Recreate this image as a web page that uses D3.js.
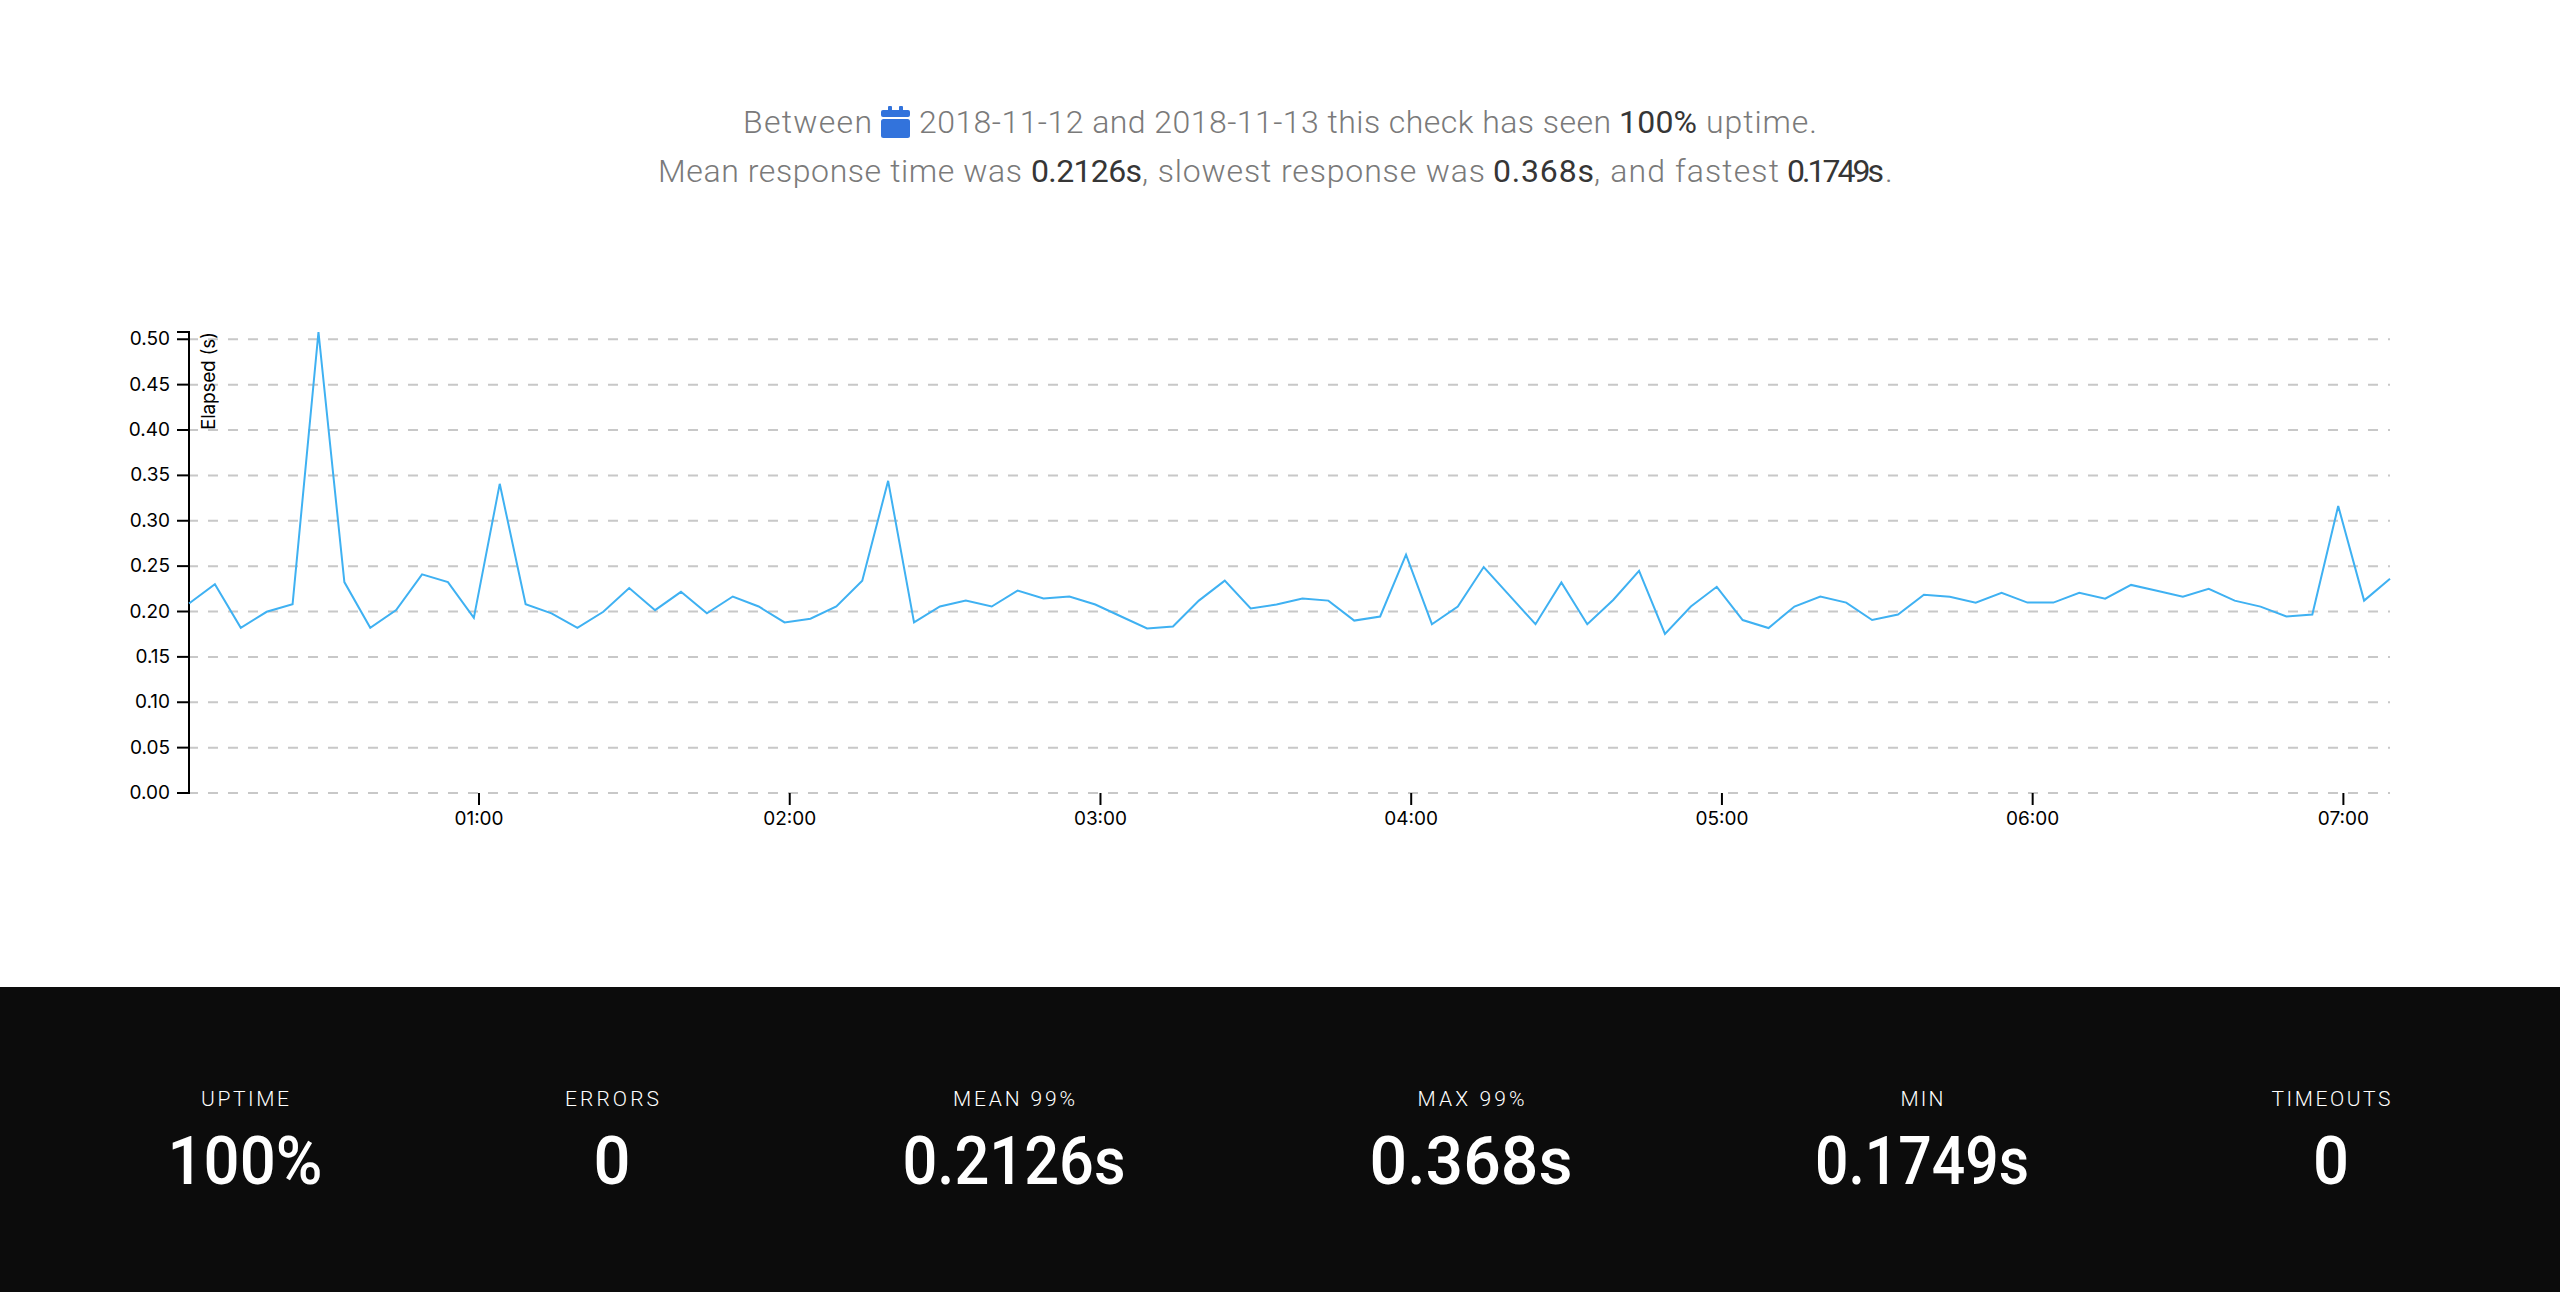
<!DOCTYPE html>
<html>
<head>
<meta charset="utf-8">
<title>Uptime report</title>
<script src="https://cdn.jsdelivr.net/npm/d3@7"></script>
<style>
  html, body { margin: 0; background: #fff; }
  svg { display: block; }
  .axis text { font-family: Inter, sans-serif; font-size: 19px; fill: #000; }
  .axis line, .axis path { stroke: #000; stroke-width: 2px; }
  .summary text { font-family: Roboto, sans-serif; font-size: 32px; font-weight: 300; fill: #7a7a7a; }
  .summary text.em { fill: #363636; font-weight: 400; }
  .stat-label { font-family: Roboto, sans-serif; font-size: 21px; font-weight: 300; fill: #fff; text-anchor: middle; }
  .stat-value { font-family: Roboto, sans-serif; font-size: 67px; font-weight: 500; fill: #fff; text-anchor: middle; }
</style>
</head>
<body>
<svg id="chart" width="2560" height="1292"></svg>
<script>
// Minutes after midnight of each five-minute check
const checkMinutes = [
  4, 9, 14, 19, 24, 29, 34, 39, 44, 49, 54, 59, 64, 69, 74, 79, 84, 89, 94, 99, 104, 109,
  114, 119, 124, 129, 134, 139, 144, 149, 154, 159, 164, 169, 174, 179, 184, 189, 194, 199, 204, 209,
  214, 219, 224, 229, 234, 239, 244, 249, 254, 259, 264, 269, 274, 279, 284, 289, 294, 299, 304, 309,
  314, 319, 324, 329, 334, 339, 344, 349, 354, 359, 364, 369, 374, 379, 384, 389, 394, 399, 404, 409,
  414, 419, 424, 429
];

// Elapsed seconds for each check
const elapsed = [
  .2088, .230, .182, .1997, .208, .508, .2324, .182, .2015, .241, .2324, .193, .3407, .208, .198, .182,
  .1997, .2258, .2015, .2217, .198, .2165, .2055, .188, .192, .2055, .234, .344, .188, .2055, .212, .2055,
  .223, .2143, .2165, .2077, .1945, .1813, .1835, .212, .234, .2033, .2077, .2143, .212, .190, .1945, .2627,
  .186, .2055, .249, .2175, .186, .232, .186, .2127, .2447, .1753, .2055, .2272, .1906, .1818, .2055, .2164,
  .2098, .1906, .1967, .2185, .2163, .2098, .2207, .2098, .2098, .2207, .2141, .2293, .2228, .2163, .225, .212,
  .2054, .1946, .1967, .3163, .212, .2362
];

const yTicks = [0, .05, .10, .15, .20, .25, .30, .35, .40, .45, .50];
const xTickHours = [1, 2, 3, 4, 5, 6, 7];

// Summary sentences as [text, emphasised, left edge, right edge]
const summaryLine1 = [
  ["Between", false, 743, 872],
  ["2018-11-12 and 2018-11-13 this check has seen", false, 919, 1611],
  ["100%", true, 1619, 1697],
  ["uptime.", false, 1706, 1817]
];
const summaryLine2 = [
  ["Mean response time was", false, 658, 1022],
  ["0.2126s", true, 1031, 1142],
  [", slowest response was", false, 1142, 1485],
  ["0.368s", true, 1493, 1594],
  [", and fastest", false, 1594, 1779],
  ["0.1749s", true, 1787, 1884],
  [".", false, 1885, 1893]
];

const statLabels = ["UPTIME", "ERRORS", "MEAN 99%", "MAX 99%", "MIN", "TIMEOUTS"];
const statValues = ["100%", "0", "0.2126s", "0.368s", "0.1749s", "0"];
const statCentres = [245, 612, 1014, 1471, 1922, 2331];
const statLabelWidths = [88, 94, 122, 107, 43, 119];
const statValueWidths = [155, 37, 223, 203, 214, 36];

const svg = d3.select("#chart");
const toDate = m => new Date(Date.UTC(2018, 10, 12, 0, m));

const x = d3.scaleUtc()
  .domain(d3.extent(checkMinutes, toDate))
  .range([189, 2390]);
const y = d3.scaleLinear()
  .domain([0, d3.max(elapsed)])
  .range([793, 332]);

// Dashed horizontal guides behind the series
svg.append("g").selectAll("line").data(yTicks).join("line")
  .attr("x1", 188).attr("x2", x.range()[1])
  .attr("y1", d => y(d)).attr("y2", d => y(d))
  .attr("stroke", "#c8c8c8").attr("stroke-width", 2)
  .attr("stroke-dasharray", "10 10");

const xAxis = d3.axisBottom(x)
  .tickValues(xTickHours.map(h => toDate(h * 60)))
  .tickFormat(d3.utcFormat("%H:%M"))
  .tickSize(12).tickPadding(7).offset(0);
svg.append("g").attr("class", "axis")
  .attr("transform", `translate(0,${y(0)})`)
  .call(xAxis)
  .call(g => g.select(".domain").remove());

const yAxis = d3.axisLeft(y)
  .tickValues(yTicks)
  .tickFormat(d3.format(".2f"))
  .tickSize(12).tickPadding(7).offset(0);
const yG = svg.append("g").attr("class", "axis")
  .attr("transform", `translate(${x.range()[0]},0)`)
  .call(yAxis);

yG.append("text")
  .attr("transform", "rotate(-90)")
  .attr("x", -y.range()[1]).attr("y", 26)
  .attr("text-anchor", "end")
  .attr("textLength", 98)
  .text("Elapsed (s)");

svg.append("path")
  .datum(elapsed)
  .attr("fill", "none").attr("stroke", "#3fb1f2").attr("stroke-width", 2)
  .attr("d", d3.line().x((d, i) => x(toDate(checkMinutes[i]))).y(d => y(d)));

// Summary sentences above the chart
const summary = svg.append("g").attr("class", "summary");
[[summaryLine1, 133], [summaryLine2, 182]].forEach(([segments, baseline]) => {
  summary.selectAll(null).data(segments).join("text")
    .attr("class", d => d[1] ? "em" : null)
    .attr("x", d => d[2]).attr("y", baseline)
    .attr("textLength", d => d[3] - d[2])
    .text(d => d[0]);
});

// Calendar icon
const icon = svg.append("g").attr("fill", "#3273dc");
icon.append("rect").attr("x", 881).attr("y", 110).attr("width", 29).attr("height", 7).attr("rx", 2);
icon.append("rect").attr("x", 881).attr("y", 119).attr("width", 29).attr("height", 19).attr("rx", 2.5);
icon.append("rect").attr("x", 888).attr("y", 106).attr("width", 4).attr("height", 5).attr("rx", 1);
icon.append("rect").attr("x", 899).attr("y", 106).attr("width", 4).attr("height", 5).attr("rx", 1);

// Dark statistics band
svg.append("rect")
  .attr("x", 0).attr("y", 987).attr("width", 2560).attr("height", 305)
  .attr("fill", "#0c0c0c");

svg.append("g").selectAll("text").data(statLabels).join("text")
  .attr("class", "stat-label")
  .attr("x", (d, i) => statCentres[i]).attr("y", 1105.5)
  .attr("textLength", (d, i) => statLabelWidths[i])
  .text(d => d);

svg.append("g").selectAll("text").data(statValues).join("text")
  .attr("class", "stat-value")
  .attr("x", (d, i) => statCentres[i]).attr("y", 1184)
  .attr("textLength", (d, i) => statValueWidths[i])
  .attr("lengthAdjust", "spacingAndGlyphs")
  .text(d => d);
</script>
</body>
</html>
